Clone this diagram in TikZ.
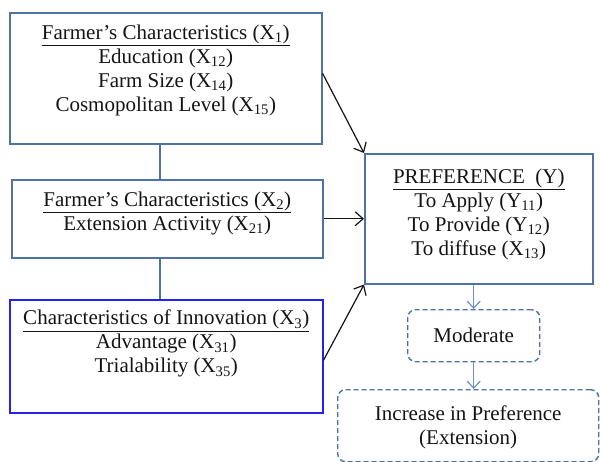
\documentclass[tikz,border=0pt]{standalone}
\usepackage{fontspec}
\setmainfont{Liberation Serif}
\usetikzlibrary{positioning,arrows.meta}
\definecolor{boxblue}{RGB}{79,114,165}
\definecolor{innoblue}{RGB}{35,35,235}
\definecolor{flowblue}{RGB}{105,145,205}
\definecolor{inkgray}{RGB}{20,20,20}
\tikzset{
  varbox/.style={draw=boxblue, line width=1.5pt, anchor=north west, inner sep=0pt},
  dashbox/.style={draw=boxblue, line width=1.4pt, dash pattern=on 5pt off 3pt, rounded corners=8pt, anchor=north west, inner sep=0pt},
  boxtext/.style={anchor=north, inner sep=0pt, align=center, text=inkgray, font=\fontsize{21}{24}\selectfont},
  link/.style={draw=boxblue, line width=1.5pt},
  arr/.style={draw=inkgray, line width=1.2pt, -{Straight Barb[length=8pt,width=14pt]}},
  flow/.style={draw=flowblue, line width=1.2pt, -{Straight Barb[length=7pt,width=13pt]}}
}
\newcommand{\sbx}[1]{\textsubscript{#1}}
\begin{document}
\begin{tikzpicture}[x=1pt,y=-1pt]
        \useasboundingbox (0,0) rectangle (600,461);
        % boxes on the left
        \node[varbox, minimum width=312pt, minimum height=131pt] (farm1) at (9,12) {};
        \node[varbox, minimum width=311pt, minimum height=78pt] (farm2) at (11,179) {};
        \node[varbox, draw=innoblue, minimum width=313pt, minimum height=113pt] (inno) at (9,299) {};
        % preference and outcome
        \node[varbox, minimum width=228pt, minimum height=130pt] (pref) at (364,153) {};
        \node[dashbox, minimum width=132pt, minimum height=52pt] (moder) at (407,309) {};
        \node[dashbox, minimum width=261pt, minimum height=72pt] (incr) at (337,389) {};
        % texts
        \node[boxtext, below=13pt of farm1.north] (farm1txt) {\underline{Farmer's Characteristics (X\sbx{1})}\\
          Education (X\sbx{12})\\ Farm Size (X\sbx{14})\\ Cosmopolitan Level (X\sbx{15})};
        \node[boxtext, below=13pt of farm2.north] (farm2txt) {\underline{Farmer's Characteristics (X\sbx{2})}\\
          Extension Activity (X\sbx{21})};
        \node[boxtext, below=11pt of inno.north] (innotxt) {\underline{Characteristics of Innovation (X\sbx{3})}\\
          Advantage (X\sbx{31})\\ Trialability (X\sbx{35})};
        \node[boxtext, below=16pt of pref.north] (preftxt) {\underline{PREFERENCE\ \ (Y)}\\
          To Apply (Y\sbx{11})\\ To Provide (Y\sbx{12})\\ To diffuse (X\sbx{13})};
        \node[boxtext, anchor=center] (modertxt) at (moder) {Moderate};
        \node[boxtext, below=17pt of incr.north] (incrtxt) {Increase in Preference\\ (Extension)};
        % connectors
        \draw[link] ([xshift=-6pt]farm1.south) -- ([xshift=-6pt]farm1.south |- farm2.north);
        \draw[link] ([xshift=-6pt]farm1.south |- farm2.south) -- ([xshift=-6pt]farm1.south |- inno.north);
        \draw[arr] ([yshift=5pt]farm1.east) -- (pref.north west);
        \draw[arr] (farm2.east) -- (pref.west);
        \draw[arr] ([yshift=-4pt]inno.east) -- (pref.south west);
        \draw[flow] (pref.south -| moder.north) -- (moder.north);
        \draw[flow] (moder.south) -- (moder.south |- incr.north);
\end{tikzpicture}
\end{document}
